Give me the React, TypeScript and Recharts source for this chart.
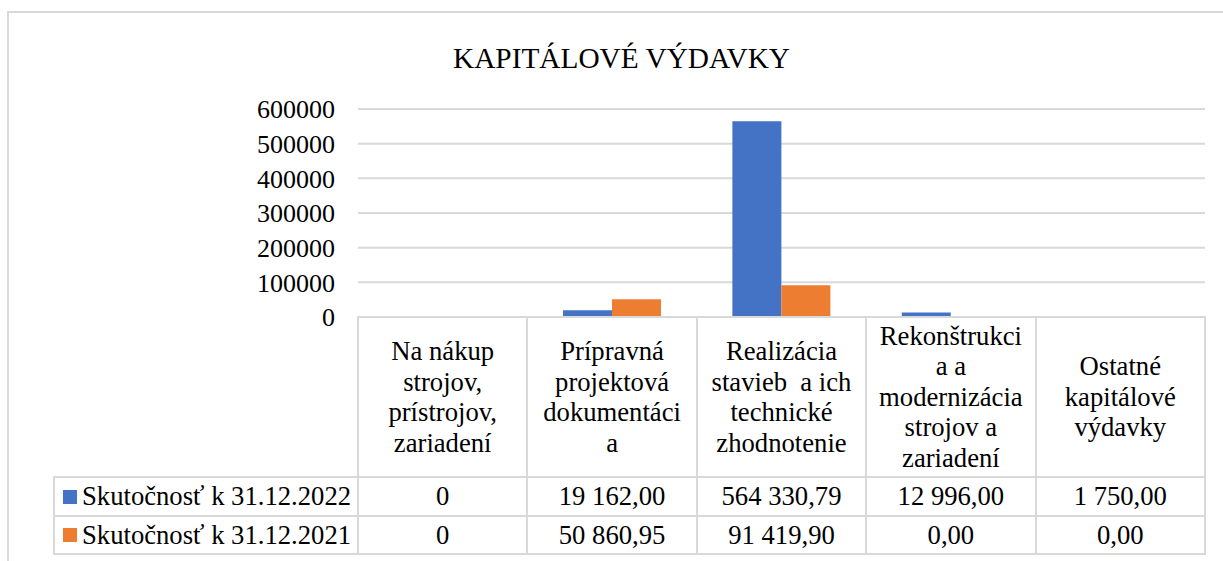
import React from "react";
import { BarChart, Bar, XAxis, YAxis, CartesianGrid } from "recharts";

const title = "KAPITÁLOVÉ VÝDAVKY";
const categories = [
  "Na nákup strojov, prístrojov, zariadení",
  "Prípravná projektová dokumentácia",
  "Realizácia stavieb  a ich technické zhodnotenie",
  "Rekonštrukcia a modernizácia strojov a zariadení",
  "Ostatné kapitálové výdavky",
];
const categoryLines = [
  ["Na nákup", "strojov,", "prístrojov,", "zariadení"],
  ["Prípravná", "projektová", "dokumentáci", "a"],
  ["Realizácia", "stavieb\u00a0 a ich", "technické", "zhodnotenie"],
  ["Rekonštrukci", "a a", "modernizácia", "strojov a", "zariadení"],
  ["Ostatné", "kapitálové", "výdavky"],
];
const seriesNames = ["Skutočnosť k 31.12.2022", "Skutočnosť k 31.12.2021"];
const values2022 = [0, 19162.0, 564330.79, 12996.0, 1750.0];
const values2021 = [0, 50860.95, 91419.9, 0.0, 0.0];
const labels2022 = ["0", "19 162,00", "564 330,79", "12 996,00", "1 750,00"];
const labels2021 = ["0", "50 860,95", "91 419,90", "0,00", "0,00"];
const yTicks = [0, 100000, 200000, 300000, 400000, 500000, 600000];
const colors = ["#4472C4", "#ED7D31"];

const data = categories.map((c, i) => ({
  name: c,
  s2022: values2022[i],
  s2021: values2021[i],
}));

const W = 1223;
const H = 561;
const PLOT_L = 358;
const PLOT_R = 1205;
const PLOT_T = 109;
const PLOT_B = 317;
const Y_AXIS_W = 100;
const COL_W = (PLOT_R - PLOT_L) / categories.length;
const HEADER_B = 477;
const ROW1_B = 516;
const ROW2_B = 554;
const TABLE_L = 54;
const LINE = "#d9d9d9";
const FONT = "Liberation Serif";
const FS = 26.67;

function HLine({ x1, x2, y }: { x1: number; x2: number; y: number }) {
  return (
    <div
      style={{ position: "absolute", left: x1 - 1, top: y - 1, width: x2 - x1 + 2, height: 2, background: LINE }}
    />
  );
}
function VLine({ x, y1, y2 }: { x: number; y1: number; y2: number }) {
  return (
    <div
      style={{ position: "absolute", left: x - 1, top: y1 - 1, width: 2, height: y2 - y1 + 2, background: LINE }}
    />
  );
}

function Cell({
  left,
  top,
  width,
  height,
  children,
  align = "center",
}: {
  left: number;
  top: number;
  width: number;
  height: number;
  children: React.ReactNode;
  align?: "center" | "left";
}) {
  return (
    <div
      style={{
        position: "absolute",
        left,
        top,
        width,
        height,
        display: "flex",
        alignItems: "center",
        justifyContent: align === "center" ? "center" : "flex-start",
        textAlign: align,
        fontFamily: FONT,
        fontSize: FS,
        lineHeight: "30.5px",
        color: "#000",
        whiteSpace: "nowrap",
      }}
    >
      {children}
    </div>
  );
}

export default function App() {
  const rows = [
    { name: seriesNames[0], labels: labels2022, color: colors[0], top: HEADER_B, bottom: ROW1_B },
    { name: seriesNames[1], labels: labels2021, color: colors[1], top: ROW1_B, bottom: ROW2_B },
  ];
  return (
    <div
      style={{ position: "absolute", left: 0, top: 0, width: W, height: H, overflow: "hidden", background: "#fff" }}
    >
      <div
        style={{
          position: "absolute",
          left: 7,
          top: 11,
          width: W + 50,
          height: H + 50,
          border: `2px solid ${LINE}`,
        }}
      />
      <div
        style={{
          position: "absolute",
          left: 421.5,
          top: 43.5,
          width: 400,
          textAlign: "center",
          fontFamily: FONT,
          fontSize: 29.33,
          lineHeight: "29.33px",
          color: "#000",
          whiteSpace: "nowrap",
        }}
      >
        {title}
      </div>
      <div style={{ position: "absolute", left: 0, top: 0 }}>
        <BarChart
          width={W}
          height={H}
          data={data}
          margin={{ top: PLOT_T, right: W - PLOT_R, bottom: H - PLOT_B, left: PLOT_L - Y_AXIS_W }}
          barCategoryGap="21%"
          barGap={0}
        >
          <CartesianGrid vertical={false} stroke={LINE} strokeWidth={2} />
          <XAxis dataKey="name" hide />
          <YAxis
            width={Y_AXIS_W}
            domain={[0, 600000]}
            ticks={yTicks}
            interval={0}
            axisLine={false}
            tickLine={false}
            tickMargin={17}
            tick={{ fontSize: 26, fontFamily: FONT, fill: "#000" }}
          />
          <Bar dataKey="s2022" name={seriesNames[0]} fill={colors[0]} isAnimationActive={false} />
          <Bar dataKey="s2021" name={seriesNames[1]} fill={colors[1]} isAnimationActive={false} />
        </BarChart>
      </div>
      {/* data table */}
      <HLine x1={PLOT_L} x2={PLOT_R} y={PLOT_B} />
      <HLine x1={TABLE_L} x2={PLOT_R} y={HEADER_B} />
      <HLine x1={TABLE_L} x2={PLOT_R} y={ROW1_B} />
      <HLine x1={TABLE_L} x2={PLOT_R} y={ROW2_B} />
      <VLine x={TABLE_L} y1={HEADER_B} y2={ROW2_B} />
      {categories.map((_, i) => (
        <VLine key={"v" + i} x={PLOT_L + i * COL_W} y1={PLOT_B} y2={ROW2_B} />
      ))}
      <VLine x={PLOT_R} y1={PLOT_B} y2={ROW2_B} />
      {categoryLines.map((lines, i) => (
        <Cell key={"h" + i} left={PLOT_L + i * COL_W} top={PLOT_B} width={COL_W} height={HEADER_B - PLOT_B}>
          <div>
            {lines.map((l, j) => (
              <div key={j}>{l}</div>
            ))}
          </div>
        </Cell>
      ))}
      {rows.map((r, ri) => (
        <React.Fragment key={"r" + ri}>
          <Cell left={TABLE_L + 9} top={r.top} width={PLOT_L - TABLE_L - 9} height={r.bottom - r.top} align="left">
            <span
              style={{ display: "inline-block", width: 14, height: 14, background: r.color, marginRight: 5 }}
            />
            <span>{r.name}</span>
          </Cell>
          {r.labels.map((lab, i) => (
            <Cell key={i} left={PLOT_L + i * COL_W} top={r.top} width={COL_W} height={r.bottom - r.top}>
              {lab}
            </Cell>
          ))}
        </React.Fragment>
      ))}
    </div>
  );
}
